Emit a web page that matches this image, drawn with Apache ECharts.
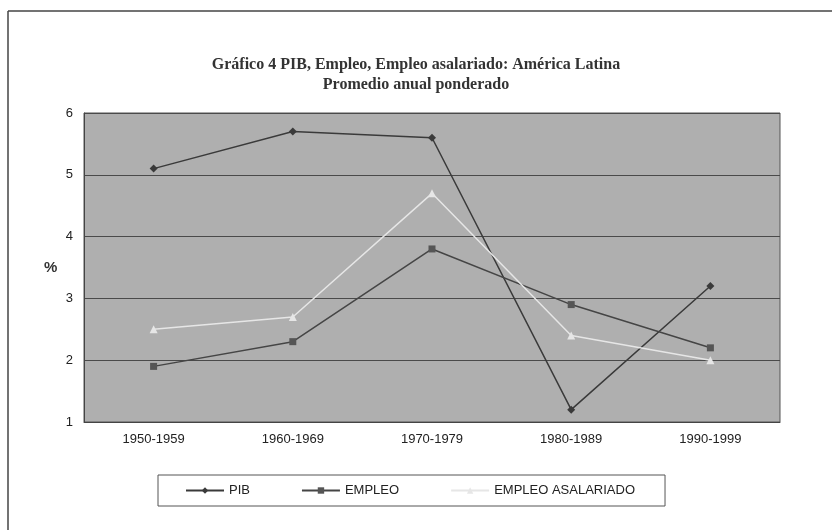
<!DOCTYPE html>
<html>
<head>
<meta charset="utf-8">
<script src="https://cdn.jsdelivr.net/npm/echarts@6/dist/echarts.min.js"></script>
<style>
	html, body { margin: 0; padding: 0; background: #fff; }
	#chart { width: 832px; height: 530px; }
</style>
</head>
<body>
<div id="chart"></div>
<script>
// datos
var categorias = ['1950-1959', '1960-1969', '1970-1979', '1980-1989', '1990-1999'];
var pib = [5.1, 5.7, 5.6, 1.2, 3.2];
var empleo = [1.9, 2.3, 3.8, 2.9, 2.2];
var asalariado = [2.5, 2.7, 4.7, 2.4, 2.0];

var chart = echarts.init(document.getElementById('chart'));
var option = {
	backgroundColor: '#fff',
	animation: false,
	title: {
		text: 'Gráfico 4 PIB, Empleo, Empleo asalariado: América Latina\nPromedio anual ponderado',
		left: 'center',
		top: 50,
		textStyle: {
			fontFamily: 'Liberation Serif',
			fontSize: 16,
			fontWeight: 'bold',
			color: '#333',
			lineHeight: 20
		}
	},
	graphic: [{
		type: 'line',
		shape: { x1: 8, y1: 11, x2: 832, y2: 11 },
		style: { stroke: '#444', lineWidth: 1.5 }
	}, {
		type: 'line',
		shape: { x1: 8, y1: 11, x2: 8, y2: 530 },
		style: { stroke: '#444', lineWidth: 1.5 }
	}, {
		type: 'text',
		left: 44,
		top: 260,
		style: { text: '%', font: 'bold 15px Liberation Sans', fill: '#333' }
	}],
	legend: {
		left: 158,
		top: 475,
		padding: [9, 30, 9, 27],
		borderColor: '#555',
		borderWidth: 1,
		itemWidth: 38,
		itemHeight: 8,
		itemGap: 51,
		textStyle: { fontFamily: 'Liberation Sans', fontSize: 13, color: '#222' },
		data: ['PIB', 'EMPLEO', 'EMPLEO ASALARIADO']
	},
	grid: {
		left: 84,
		right: 52,
		top: 113,
		bottom: 108,
		show: true,
		backgroundColor: '#afafaf',
		borderColor: '#555',
		borderWidth: 1
	},
	xAxis: {
		type: 'category',
		data: categorias,
		boundaryGap: true,
		axisLine: { lineStyle: { color: '#444' } },
		axisTick: { show: false },
		axisLabel: { fontFamily: 'Liberation Sans', fontSize: 13, color: '#222', margin: 11 }
	},
	yAxis: {
		type: 'value',
		min: 1,
		max: 6,
		interval: 1,
		axisLine: { show: true, lineStyle: { color: '#444' } },
		axisTick: { show: false },
		axisLabel: { fontFamily: 'Liberation Sans', fontSize: 13, color: '#222', margin: 11 },
		splitLine: { lineStyle: { color: '#4a4a4a', width: 1 } }
	},
	series: [{
		name: 'PIB',
		type: 'line',
		data: pib,
		symbol: 'diamond',
		symbolSize: 8,
		lineStyle: { color: '#3a3a3a', width: 1.5 },
		itemStyle: { color: '#3a3a3a' }
	}, {
		name: 'EMPLEO',
		type: 'line',
		data: empleo,
		symbol: 'rect',
		symbolSize: 7,
		lineStyle: { color: '#454545', width: 1.5 },
		itemStyle: { color: '#555' }
	}, {
		name: 'EMPLEO ASALARIADO',
		type: 'line',
		data: asalariado,
		symbol: 'triangle',
		symbolSize: 8,
		lineStyle: { color: '#e6e6e6', width: 1.5 },
		itemStyle: { color: '#e6e6e6' }
	}]
};
chart.setOption(option);
</script>
</body>
</html>
